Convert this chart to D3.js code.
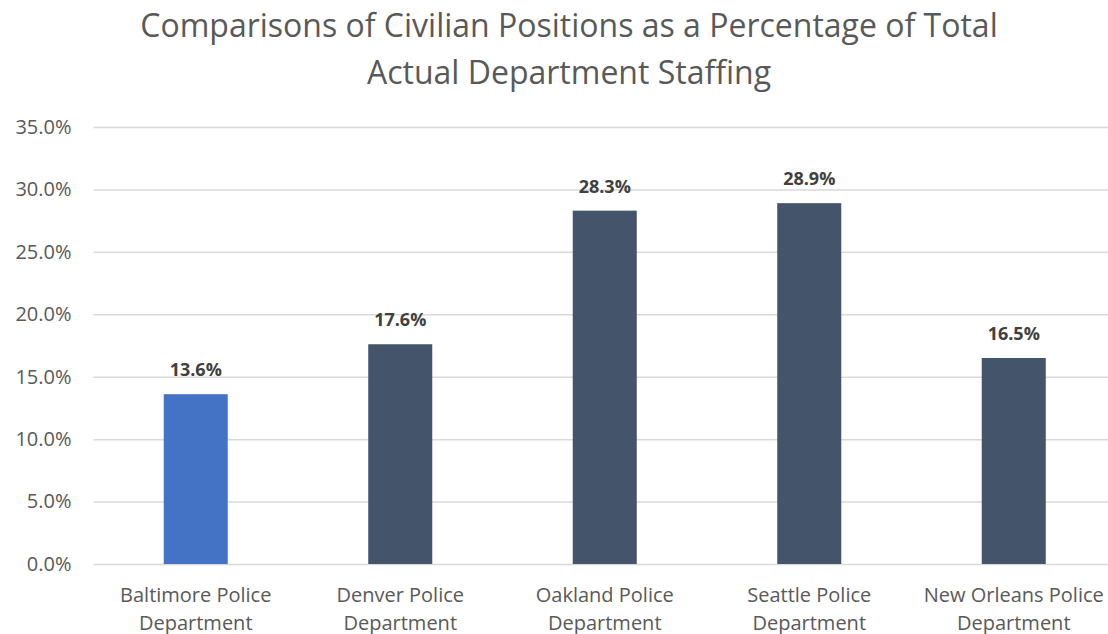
<!DOCTYPE html>
<html>
<head>
<meta charset="utf-8">
<script src="https://cdn.jsdelivr.net/npm/d3@7"></script>
<style>
  body { margin: 0; background: #fff; }
  svg { display: block; font-family: "Open Sans", "Noto Sans", sans-serif; }
</style>
</head>
<body>
<svg width="1108" height="634"></svg>
<script>
// chart data
const departments = [
  ['Baltimore Police', 'Department'],
  ['Denver Police', 'Department'],
  ['Oakland Police', 'Department'],
  ['Seattle Police', 'Department'],
  ['New Orleans Police', 'Department']
]
const civilianPct = [13.6, 17.6, 28.3, 28.9, 16.5]
const barColors = ['#4472c4', '#44546a', '#44546a', '#44546a', '#44546a']
const yTicks = [0, 5, 10, 15, 20, 25, 30, 35]
const titleLines = ['Comparisons of Civilian Positions as a Percentage of Total', 'Actual Department Staffing']

const svg = d3.select('svg')
const margin = {left: 93.5, right: -8, top: 127, bottom: 70}
const width = 1108 - margin.left - margin.right
const height = 634 - margin.top - margin.bottom

const data = departments.map((d, i) => ({name: d, value: civilianPct[i], color: barColors[i]}))

const x = d3.scaleBand()
  .domain(d3.range(data.length))
  .range([margin.left, margin.left + width])
  .paddingInner(0.687)
  .paddingOuter(0.3435)

const y = d3.scaleLinear()
  .domain([0, 35])
  .range([margin.top + height, margin.top])

// title
svg.append('g').selectAll('text').data(titleLines).enter()
  .append('text')
    .attr('x', 569)
    .attr('y', (d, i) => 37 + i * 47)
    .attr('text-anchor', 'middle')
    .attr('font-size', '32px')
    .attr('fill', '#595959')
    .text(d => d)

// gridlines + y labels
const yAxis = d3.axisLeft(y)
  .tickValues(yTicks)
  .tickSize(-(1108 - margin.left))
  .tickPadding(22)
  .tickFormat(d => d.toFixed(1) + '%')

svg.append('g')
  .attr('transform', `translate(${margin.left},0)`)
  .call(yAxis)
  .call(g => g.select('.domain').remove())
  .call(g => g.selectAll('.tick line').attr('stroke', '#d9d9d9').attr('stroke-width', 1.5))
  .call(g => g.selectAll('.tick text')
    .attr('font-size', '20px')
    .attr('font-family', '"Open Sans", "Noto Sans", sans-serif')
    .attr('fill', '#595959'))

// bars
svg.append('g').selectAll('rect').data(data).enter()
  .append('rect')
    .attr('x', (d, i) => x(i))
    .attr('width', x.bandwidth())
    .attr('y', d => y(d.value))
    .attr('height', d => y(0) - y(d.value))
    .attr('fill', d => d.color)

// value labels
svg.append('g').selectAll('text').data(data).enter()
  .append('text')
    .attr('x', (d, i) => x(i) + x.bandwidth() / 2)
    .attr('y', d => y(d.value) - 18)
    .attr('text-anchor', 'middle')
    .attr('font-size', '18px')
    .attr('font-weight', 'bold')
    .attr('fill', '#404040')
    .text(d => d.value.toFixed(1) + '%')

// category labels
const cats = svg.append('g').selectAll('text').data(data).enter()
  .append('text')
    .attr('x', (d, i) => x(i) + x.bandwidth() / 2)
    .attr('y', 602)
    .attr('text-anchor', 'middle')
    .attr('font-size', '20px')
    .attr('fill', '#595959')

cats.selectAll('tspan').data(d => d.name).enter()
  .append('tspan')
    .attr('x', function() { return d3.select(this.parentNode).attr('x') })
    .attr('dy', (d, i) => i ? 28 : 0)
    .text(d => d)
</script>
</body>
</html>
